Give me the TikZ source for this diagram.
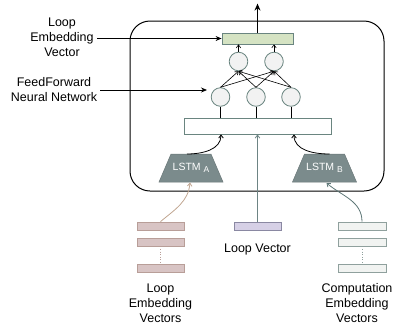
\documentclass[tikz,border=0pt]{standalone}
\usepackage{fontspec}
\setmainfont{Liberation Sans}
\usetikzlibrary{arrows.meta}
\definecolor{embfill}{HTML}{D5E3C3}
\definecolor{boxline}{HTML}{6A8580}
\definecolor{cellfill}{HTML}{F2F2F2}
\definecolor{lstmfill}{HTML}{7B8B8C}
\definecolor{loopfill}{HTML}{D8C4C4}
\definecolor{loopline}{HTML}{B89E98}
\definecolor{vecfill}{HTML}{D6D0E6}
\definecolor{vecline}{HTML}{8A88A2}
\definecolor{compfill}{HTML}{F1F3F1}
\definecolor{compline}{HTML}{8FA09D}
\definecolor{looparrow}{HTML}{C0A590}
\definecolor{comparrow}{HTML}{5D7676}
\begin{document}
\begin{tikzpicture}[x=1pt,y=-1pt,line width=.8pt,
  font=\fontsize{12.5}{15}\selectfont,
  cell/.style={circle,draw=boxline,fill=cellfill,minimum size=18.6pt,inner sep=0pt},
  lstmtext/.style={text=white,inner sep=0pt,font=\fontsize{10.5}{12}\selectfont},
  bar/.style={draw,minimum width=#1,minimum height=8pt,inner sep=0pt},
  lbl/.style={align=center,inner sep=3pt},
  tip/.style={-{Straight Barb[length=3pt,width=4.5pt]}},
  bigtip/.style={-{Stealth[length=6pt,width=5pt]}}]
\useasboundingbox (0,0) rectangle (397,325);
% frame
\node[draw,line width=1pt,rounded corners=20pt,minimum width=254pt,
  minimum height=170pt] (frame) at (257,106) {};
% feed forward part
\node[draw=boxline,fill=embfill,minimum width=71pt,minimum height=11pt,
  inner sep=0pt] (emb) at (257.5,38.5) {};
\node[cell] (o1) at (238.5,61.5) {};
\node[cell] (o2) at (274,61.5) {};
\node[cell] (h1) at (220.5,97) {};
\node[cell] (h2) at (256,97) {};
\node[cell] (h3) at (291,97) {};
\node[draw=boxline,fill=white,minimum width=147pt,minimum height=16pt,
  inner sep=0pt] (cat) at (257.5,126) {};
\foreach \i in {1,2,3}{
  \foreach \j in {1,2}\draw[tip,line width=.6pt] (h\i.north)--(o\j.south);
  \draw (h\i.south)--(h\i.south|-cat.north);
}
\foreach \j in {1,2}\draw[tip,line width=.6pt] (o\j.north)--(o\j.north|-emb.south);
\draw[line width=1.3pt,-{Stealth[length=7pt,width=6pt]}] (emb.north)--++(0,-29);
% lstm
\coordinate (lstmA) at (191,168);
\coordinate (lstmB) at (324.5,168);
\foreach \c in {lstmA,lstmB}
  \filldraw[fill=lstmfill,draw=lstmfill!85!black,line width=.5pt]
    (\c) ++(-32,14) -- ++(64,0) -- ++(-12,-28) -- ++(-40,0) -- cycle;
\node[lstmtext] (lstmAtext) at (lstmA) {LSTM \raisebox{-.45ex}{\fontsize{8.5}{10}\selectfont A}};
\node[lstmtext] (lstmBtext) at (lstmB) {LSTM \raisebox{-.45ex}{\fontsize{8.5}{10}\selectfont B}};
\draw[tip] ([shift={(-4,-14)}]lstmA) to[out=0,in=-90] ([xshift=-36.5pt]cat.south);
\draw[tip] ([shift={(5,-14)}]lstmB) to[out=180,in=-90] ([xshift=36.5pt]cat.south);
% inputs
\foreach \y/\n in {226/1,242/2,268.5/3}{
  \node[bar=47pt,draw=loopline,fill=loopfill] (le\n) at (160.5,\y) {};
  \node[bar=48pt,draw=compline,fill=compfill] (ce\n) at (362,\y) {};
}
\draw[loopline,dotted,line width=.6pt] (le2.south)--(le3.north);
\draw[compline,dotted,line width=.6pt] (ce2.south)--(ce3.north);
\node[bar=47pt,draw=vecline,fill=vecfill] (lv) at (257.5,226) {};
\draw[tip,draw=comparrow!90!white] (lv.north)--(cat.south);
\draw[tip,draw=looparrow] (le1.north) to[out=40,in=-95] ([shift={(-1,14.5)}]lstmA);
\draw[tip,draw=comparrow] (ce1.north) to[out=90,in=-40] ([shift={(2,15)}]lstmB);
% labels
\node[lbl] (lvlab) at (257.5,249) {Loop Vector};
\node[lbl] (lelab) at (160.5,303) {Loop\\Embedding\\Vectors};
\node[lbl] (celab) at (357,303) {Computation\\Embedding\\Vectors};
\node[lbl] (emblab) at (62,37) {Loop\\Embedding\\Vector};
\node[lbl] (ffnlab) at (54,90) {FeedForward\\Neural Network};
\coordinate (ffnend) at (207,90);
\draw[bigtip] (emblab.east|-emb.west)--(emb.west);
\draw[bigtip] (ffnlab.east)--(ffnend);
\end{tikzpicture}
\end{document}
